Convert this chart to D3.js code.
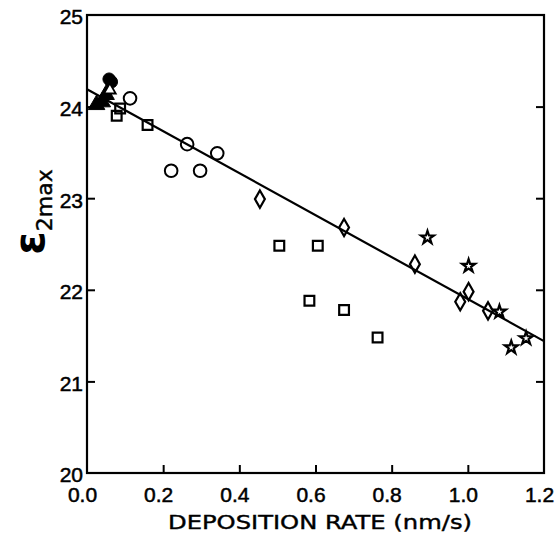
<!DOCTYPE html>
<html>
<head>
<meta charset="utf-8">
<script src="https://cdn.jsdelivr.net/npm/d3@7"></script>
<style>
  html, body { margin: 0; padding: 0; background: #fff; }
  #chart { width: 559px; height: 536px; }
</style>
</head>
<body>
<div id="chart"></div>
<script>
// values (deposition rate in nm/s, eps2max)
const openCircleX = [0.113, 0.221, 0.263, 0.297, 0.342];
const openCircleY = [24.09, 23.30, 23.59, 23.30, 23.49];

const squareX = [0.078, 0.087, 0.159, 0.505, 0.584, 0.606, 0.675, 0.763];
const squareY = [23.90, 23.98, 23.80, 22.48, 21.88, 22.48, 21.78, 21.48];

const diamondX = [0.454, 0.675, 0.861, 0.980, 1.002, 1.053];
const diamondY = [22.99, 22.68, 22.28, 21.87, 21.98, 21.77];

const starX = [0.894, 1.002, 1.083, 1.114, 1.153];
const starY = [22.57, 22.26, 21.76, 21.37, 21.47];

const filledTriangleX = [0.025, 0.040, 0.050];
const filledTriangleY = [24.02, 24.05, 24.13];

const filledCircleX = [0.058, 0.064];
const filledCircleY = [24.30, 24.27];

const openTriangleX = [0.060];
const openTriangleY = [24.18];

const fitX = [0, 1.2];
const fitY = [24.19, 21.44];

const xTicks = [0, 0.2, 0.4, 0.6, 0.8, 1.0, 1.2];
const yTicks = [20, 21, 22, 23, 24, 25];

const zip = (xs, ys) => xs.map((x, i) => ({ x, y: ys[i] }));

function drawChart() {
    const width = 559, height = 536;
    const margin = { top: 15, right: 15, bottom: 63, left: 87 };
    const innerWidth = width - margin.left - margin.right;
    const innerHeight = height - margin.top - margin.bottom;
    const font = "'DejaVu Sans', sans-serif";

    const svg = d3.select("#chart").append("svg")
        .attr("width", width)
        .attr("height", height)
        .style("font-family", font);

    const g = svg.append("g")
        .attr("transform", `translate(${margin.left},${margin.top})`);

    const xScale = d3.scaleLinear().domain([0, 1.2]).range([0, innerWidth]);
    const yScale = d3.scaleLinear().domain([20, 25]).range([innerHeight, 0]);

    // bottom axis: inward ticks, labels below
    g.append("g")
        .attr("transform", `translate(0,${innerHeight})`)
        .call(d3.axisBottom(xScale).tickValues(xTicks).tickFormat(d3.format(".1f"))
            .tickSizeInner(-8).tickSizeOuter(0).tickPadding(14))
        .call(a => a.select(".domain").remove())
        .call(a => a.selectAll("line").attr("stroke", "#000").attr("stroke-width", 2)
            .filter(d => d === 0 || d === 1.2).remove())
        .call(a => a.selectAll("text").attr("fill", "#000").attr("stroke", "#000")
            .attr("stroke-width", 0.5).style("font-size", "21px").attr("x", -5));

    // left axis
    g.append("g")
        .call(d3.axisLeft(yScale).tickValues(yTicks).tickFormat(d3.format("d"))
            .tickSizeInner(-8).tickSizeOuter(0).tickPadding(4))
        .call(a => a.select(".domain").remove())
        .call(a => a.selectAll("line").attr("stroke", "#000").attr("stroke-width", 2)
            .filter(d => d === 20 || d === 25).remove())
        .call(a => a.selectAll("text").attr("fill", "#000").attr("stroke", "#000")
            .attr("stroke-width", 0.5).style("font-size", "21px").attr("dy", "0.42em"));

    // right axis, ticks only
    g.append("g")
        .attr("transform", `translate(${innerWidth},0)`)
        .call(d3.axisRight(yScale).tickValues([21, 22, 23, 24]).tickFormat("")
            .tickSizeInner(-8).tickSizeOuter(0))
        .call(a => a.select(".domain").remove())
        .call(a => a.selectAll("line").attr("stroke", "#000").attr("stroke-width", 2));

    // frame
    g.append("rect")
        .attr("width", innerWidth)
        .attr("height", innerHeight)
        .attr("fill", "none")
        .attr("stroke", "#000")
        .attr("stroke-width", 2.2);

    // fit line
    const line = d3.line().x(d => xScale(d.x)).y(d => yScale(d.y));
    g.append("path")
        .datum(zip(fitX, fitY))
        .attr("d", line)
        .attr("fill", "none")
        .attr("stroke", "#000")
        .attr("stroke-width", 2.2);

    function addMarkers(data, type, size, fill, strokeWidth) {
        g.append("g").selectAll("path")
            .data(data)
            .enter()
            .append("path")
            .attr("transform", d => `translate(${xScale(d.x)},${yScale(d.y)})`)
            .attr("d", d3.symbol().type(type).size(size))
            .attr("fill", fill)
            .attr("stroke", "#000")
            .attr("stroke-width", strokeWidth);
    }

    addMarkers(zip(openCircleX, openCircleY), d3.symbolCircle, 125, "none", 2);
    addMarkers(zip(squareX, squareY), d3.symbolSquare, 95, "none", 2.2);
    addMarkers(zip(diamondX, diamondY), d3.symbolDiamond, 85, "none", 2.2);
    addMarkers(zip(starX, starY), d3.symbolStar, 52, "none", 2.2);
    addMarkers(zip(filledTriangleX, filledTriangleY), d3.symbolTriangle, 120, "#000", 1);
    addMarkers(zip(filledCircleX, filledCircleY), d3.symbolCircle, 120, "#000", 1);
    addMarkers(zip(openTriangleX, openTriangleY), d3.symbolTriangle, 60, "#fff", 1.8);

    // x axis title
    svg.append("text")
        .attr("x", 320)
        .attr("y", 529)
        .attr("text-anchor", "middle")
        .attr("textLength", 304)
        .attr("lengthAdjust", "spacingAndGlyphs")
        .style("font-size", "19px")
        .style("fill", "#000")
        .attr("stroke", "#000")
        .attr("stroke-width", 0.4)
        .text("DEPOSITION RATE (nm/s)");

    // y axis title: epsilon with subscript
    const yTitle = svg.append("text")
        .attr("transform", "translate(44,212) rotate(-90)")
        .attr("text-anchor", "middle")
        .style("fill", "#000");
    yTitle.append("tspan")
        .style("font-size", "42px")
        .style("font-weight", "bold")
        .text("ε");
    yTitle.append("tspan")
        .attr("dy", 8)
        .style("font-size", "22px")
        .attr("stroke", "#000")
        .attr("stroke-width", 0.4)
        .text("2max");
}

drawChart();
</script>
</body>
</html>
